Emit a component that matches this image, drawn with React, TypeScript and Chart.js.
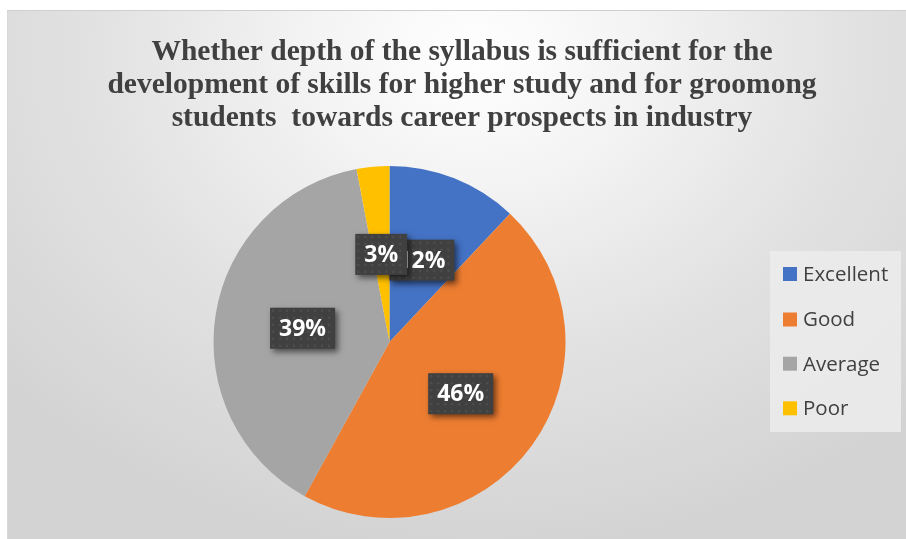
import React, { useEffect, useRef } from "react";
import { Chart, registerables } from "chart.js";

Chart.register(...registerables);

const titleLines = [
  "Whether depth of the syllabus is sufficient for the",
  "development of skills for higher study and for groomong",
  "students  towards career prospects in industry",
];
const categories = ["Excellent", "Good", "Average", "Poor"];
const values = [12, 46, 39, 3];
const valueLabels = ["12%", "46%", "39%", "3%"];
const colors = ["#4472C4", "#ED7D31", "#A5A5A5", "#FFC000"];

const W = 899;
const H = 529;

const titlePlugin = {
  id: "customTitle",
  beforeDraw(chart: any) {
    const ctx = chart.ctx;
    ctx.save();
    ctx.fillStyle = "#404040";
    ctx.font = "bold 29.5px 'Liberation Serif', 'Times New Roman', serif";
    ctx.textAlign = "center";
    ctx.textBaseline = "alphabetic";
    const cx = 455;
    const baselines = [50, 83, 116];
    titleLines.forEach((t, i) => {
      ctx.fillText(t, cx, baselines[i]);
    });
    ctx.restore();
  },
};

const legendPlugin = {
  id: "customLegend",
  afterDraw(chart: any) {
    const ctx = chart.ctx;
    ctx.save();
    ctx.fillStyle = "rgba(236,236,236,0.85)";
    ctx.fillRect(763, 241, 131, 181);
    const ys = [264, 309.5, 353.7, 398.3];
    ctx.font = "20.5px 'Open Sans', sans-serif";
    ctx.textBaseline = "middle";
    ctx.textAlign = "left";
    chart.data.labels.forEach((lab: string, i: number) => {
      ctx.fillStyle = chart.data.datasets[0].backgroundColor[i];
      ctx.fillRect(776, ys[i] - 7, 14, 14);
      ctx.fillStyle = "#404040";
      ctx.fillText(lab, 796, ys[i] + 1);
    });
    ctx.restore();
  },
};

const labelPlugin = {
  id: "boxLabels",
  afterDatasetsDraw(chart: any) {
    const ctx = chart.ctx;
    const meta = chart.getDatasetMeta(0);
    ctx.save();
    ctx.font = "bold 23px 'Open Sans', sans-serif";
    meta.data.forEach((arc: any, i: number) => {
      const p = arc.tooltipPosition();
      const text = valueLabels[i];
      const tw = ctx.measureText(text).width;
      const bw = tw + 18;
      const bh = 41;
      const x = p.x - bw / 2;
      const y = p.y - bh / 2;
      ctx.save();
      ctx.shadowColor = "rgba(0,0,0,0.55)";
      ctx.shadowBlur = 6;
      ctx.shadowOffsetX = 3;
      ctx.shadowOffsetY = 3;
      ctx.fillStyle = "#404040";
      ctx.fillRect(x, y, bw, bh);
      ctx.restore();
      ctx.save();
      ctx.beginPath();
      ctx.rect(x, y, bw, bh);
      ctx.clip();
      ctx.fillStyle = "rgba(255,255,255,0.07)";
      for (let yy = y + 3; yy < y + bh; yy += 7) {
        for (let xx = x + 3; xx < x + bw; xx += 7) {
          ctx.beginPath();
          ctx.arc(xx, yy, 1.3, 0, Math.PI * 2);
          ctx.fill();
        }
      }
      ctx.restore();
      ctx.fillStyle = "#ffffff";
      ctx.textAlign = "center";
      ctx.textBaseline = "middle";
      ctx.fillText(text, p.x, p.y + 1);
    });
    ctx.restore();
  },
};

export default function App() {
  const ref = useRef<HTMLCanvasElement | null>(null);
  useEffect(() => {
    if (!ref.current) return;
    const chart = new Chart(ref.current, {
      type: "pie",
      data: {
        labels: categories,
        datasets: [
          {
            data: values,
            backgroundColor: colors,
            borderWidth: 0,
          },
        ],
      },
      options: {
        responsive: false,
        animation: false,
        layout: {
          padding: { left: 206.5, right: 340.5, top: 156, bottom: 21 },
        },
        plugins: {
          legend: { display: false },
          title: { display: false },
          tooltip: { enabled: false },
        },
      },
      plugins: [titlePlugin, labelPlugin, legendPlugin],
    });
    return () => chart.destroy();
  }, []);

  return (
    <div
      style={{
        position: "absolute",
        left: 0,
        top: 0,
        width: 906,
        height: 539,
        background: "#ffffff",
        overflow: "hidden",
      }}
    >
      <div
        style={{
          position: "absolute",
          left: 7,
          top: 10,
          width: W,
          height: H,
          borderTop: "1px solid #cfcfcf",
          borderLeft: "1px solid #d8d8d8",
          boxSizing: "border-box",
          background:
            "radial-gradient(ellipse 70% 95% at 52% 8%, #ffffff 0%, #f4f4f4 25%, #e2e2e2 60%, #d3d3d3 100%)",
        }}
      >
        <canvas
          ref={ref}
          width={W}
          height={H}
          style={{ position: "absolute", left: -1, top: -1, width: W, height: H }}
        />
      </div>
    </div>
  );
}
